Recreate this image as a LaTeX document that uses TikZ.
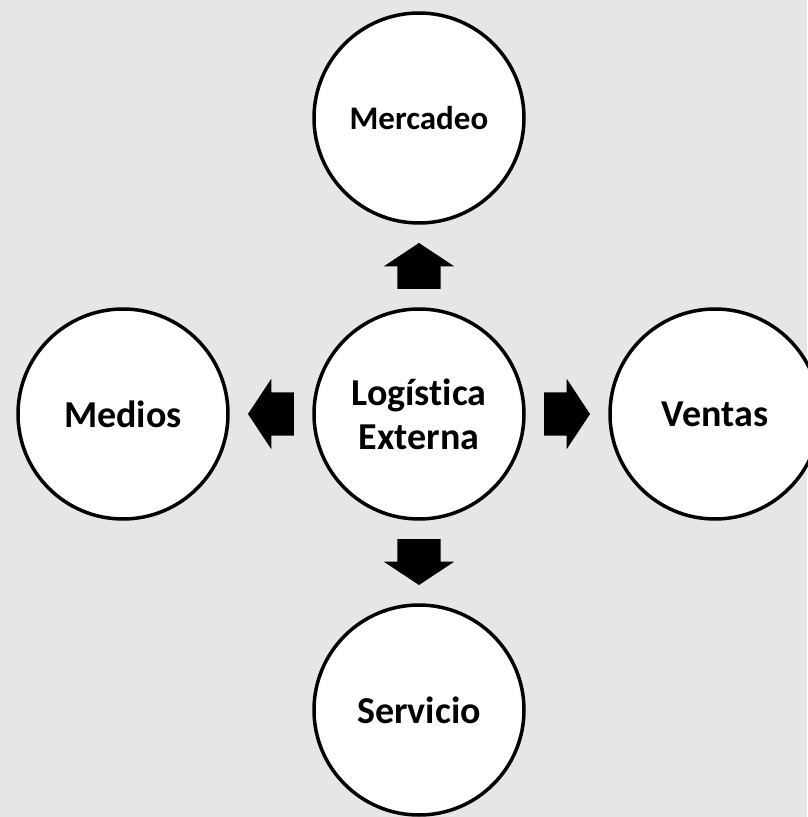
\documentclass[tikz,border=0pt]{standalone}
\usepackage{fontspec}
\setmainfont{Carlito}[Ligatures=NoCommon]
\usetikzlibrary{positioning,calc,shapes.arrows}
\definecolor{bggray}{RGB}{230,230,230}
\tikzset{
  area/.style={circle, draw=black, line width=3.5pt, fill=white, outer sep=0pt,
    minimum size=210pt, align=center, font=\fontsize{38}{44}\selectfont\bfseries},
  blockarrow/.style={single arrow, fill=black, draw=none, inner xsep=0pt, inner ysep=21.5pt,
    outer sep=0pt, minimum height=46pt, single arrow head extend=13.5pt,
    single arrow tip angle=113, single arrow head indent=0pt, anchor=tail}
}
\begin{document}
\begin{tikzpicture}[node distance=86pt]
  \fill[bggray] (-419pt,-403pt) rectangle (388pt,414pt);
  \useasboundingbox (-419pt,-403pt) rectangle (388pt,414pt);
  \node[area] (log) at (0,0) {Logística\\Externa};
  \node[area, above=of log, font=\fontsize{33}{40}\selectfont\bfseries] (merc) {Mercadeo};
  \node[area, below=of log] (serv) {Servicio};
  \node[area, left=of log] (med) {Medios};
  \node[area, right=of log] (vent) {Ventas};
  % flechas
  \node[blockarrow, rotate=90] (aup) at ($(log)!0.5!(merc)!23pt!(log)$) {};
  \node[blockarrow, rotate=-90] (adown) at ($(log)!0.5!(serv)!23pt!(log)$) {};
  \node[blockarrow, rotate=180] (aleft) at ($(log)!0.5!(med)!23pt!(log)$) {};
  \node[blockarrow] (aright) at ($(log)!0.5!(vent)!23pt!(log)$) {};
\end{tikzpicture}
\end{document}
